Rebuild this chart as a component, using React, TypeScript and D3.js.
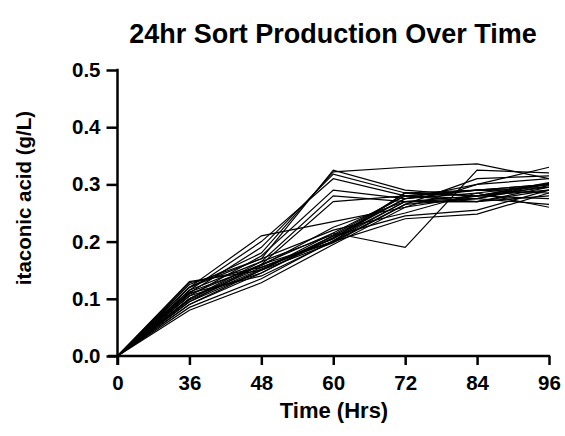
import React, { useEffect, useRef } from "react";
import * as d3 from "d3";

// time points (hrs), spaced evenly on the axis
const timepoints = ["0", "36", "48", "60", "72", "84", "96"];
const yTicks = [0, 0.1, 0.2, 0.3, 0.4, 0.5];

// itaconic acid (g/L) per sort replicate, one value per time point
const s1 = [0, 0.125, 0.17, 0.325, 0.29, 0.28, 0.3];
const s2 = [0, 0.12, 0.18, 0.322, 0.33, 0.336, 0.31];
const s3 = [0, 0.11, 0.19, 0.318, 0.285, 0.29, 0.295];
const s4 = [0, 0.115, 0.2, 0.31, 0.28, 0.275, 0.265];
const s5 = [0, 0.105, 0.175, 0.29, 0.275, 0.285, 0.26];
const s6 = [0, 0.1, 0.165, 0.28, 0.27, 0.27, 0.29];
const s7 = [0, 0.095, 0.16, 0.27, 0.28, 0.29, 0.3];
const s8 = [0, 0.12, 0.21, 0.235, 0.26, 0.3, 0.33];
const s9 = [0, 0.09, 0.15, 0.215, 0.19, 0.325, 0.32];
const s10 = [0, 0.13, 0.15, 0.21, 0.275, 0.29, 0.3];
const s11 = [0, 0.128, 0.155, 0.205, 0.27, 0.28, 0.295];
const s12 = [0, 0.11, 0.14, 0.2, 0.285, 0.28, 0.29];
const s13 = [0, 0.105, 0.145, 0.21, 0.245, 0.255, 0.29];
const s14 = [0, 0.1, 0.16, 0.2, 0.24, 0.248, 0.285];
const s15 = [0, 0.095, 0.15, 0.198, 0.265, 0.275, 0.298];
const s16 = [0, 0.085, 0.135, 0.202, 0.27, 0.27, 0.28];
const s17 = [0, 0.08, 0.128, 0.195, 0.26, 0.28, 0.303];
const s18 = [0, 0.09, 0.145, 0.207, 0.275, 0.3, 0.31];
const s19 = [0, 0.115, 0.165, 0.212, 0.28, 0.29, 0.285];
const s20 = [0, 0.12, 0.17, 0.22, 0.25, 0.285, 0.3];
const s21 = [0, 0.1, 0.155, 0.2, 0.265, 0.31, 0.315];
const s22 = [0, 0.108, 0.16, 0.215, 0.28, 0.27, 0.295];
const s23 = [0, 0.098, 0.152, 0.205, 0.285, 0.28, 0.275];
const s24 = [0, 0.112, 0.158, 0.225, 0.27, 0.275, 0.302];

const series = [s1, s2, s3, s4, s5, s6, s7, s8, s9, s10, s11, s12,
  s13, s14, s15, s16, s17, s18, s19, s20, s21, s22, s23, s24];

const W = 565;
const H = 436;
const FONT = "Arial, 'Liberation Sans', Helvetica, sans-serif";

const App = () => {
  const ref = useRef<SVGSVGElement>(null);

  useEffect(() => {
    const svg = d3.select(ref.current);
    svg.selectAll("*").remove();

    const x = d3.scalePoint().domain(timepoints).range([117.5, 549]);
    const y = d3.scaleLinear().domain([0, 0.5]).range([356, 70]);

    const line = d3
      .line<number>()
      .x((_, i) => x(timepoints[i]) as number)
      .y((d) => y(d));

    svg
      .append("g")
      .selectAll("path")
      .data(series)
      .enter()
      .append("path")
      .attr("d", (d) => line(d))
      .attr("fill", "none")
      .attr("stroke", "#000")
      .attr("stroke-width", 1.2)
      .attr("stroke-linejoin", "miter");

    // x axis
    const gx = svg
      .append("g")
      .attr("transform", "translate(0,356)")
      .call(d3.axisBottom(x).tickSize(9).tickPadding(10).tickSizeOuter(0));
    gx.select(".domain").attr("d", "M108,0H550.2");

    // y axis
    const gy = svg
      .append("g")
      .attr("transform", "translate(117.5,0)")
      .call(
        d3
          .axisLeft(y)
          .tickValues(yTicks)
          .tickFormat(d3.format(".1f"))
          .tickSize(11)
          .tickPadding(6)
          .tickSizeOuter(0)
      );
    gy.select(".domain").attr("d", "M0,68.8V365");

    [gx, gy].forEach((g) => {
      g.selectAll(".domain, .tick line")
        .attr("stroke", "#000")
        .attr("stroke-width", 2.5);
      g.selectAll("text")
        .attr("fill", "#000")
        .style("font-family", FONT)
        .style("font-weight", "bold")
        .style("font-size", "20.5px");
    });

    svg
      .append("text")
      .attr("x", 333)
      .attr("y", 43)
      .attr("text-anchor", "middle")
      .style("font-family", FONT)
      .style("font-weight", "bold")
      .style("font-size", "27px")
      .text("24hr Sort Production Over Time");

    svg
      .append("text")
      .attr("x", 334)
      .attr("y", 418)
      .attr("text-anchor", "middle")
      .style("font-family", FONT)
      .style("font-weight", "bold")
      .style("font-size", "22px")
      .text("Time (Hrs)");

    svg
      .append("text")
      .attr("transform", "translate(31,198) rotate(-90)")
      .attr("text-anchor", "middle")
      .style("font-family", FONT)
      .style("font-weight", "bold")
      .style("font-size", "20.5px")
      .text("itaconic acid (g/L)");
  }, []);

  return (
    <svg
      ref={ref}
      width={W}
      height={H}
      style={{ position: "absolute", left: 0, top: 0, background: "#fff" }}
    />
  );
};

export default App;
